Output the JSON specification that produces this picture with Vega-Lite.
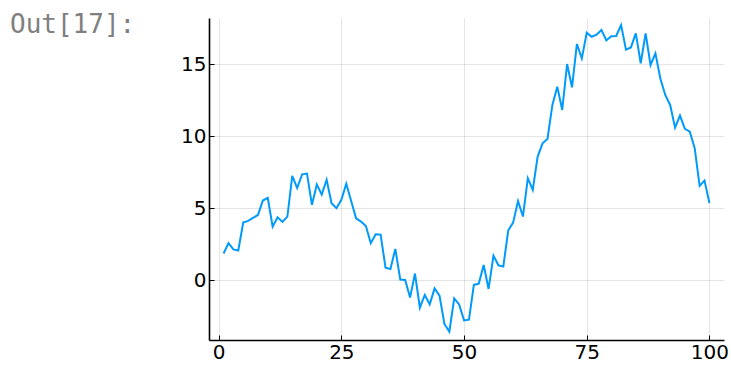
{
  "$schema": "https://vega.github.io/schema/vega-lite/v6.json",
  "width": 515,
  "height": 322,
  "autosize": {"type": "none"},
  "padding": {"left": 209, "top": 18, "right": 7, "bottom": 31},
  "background": "white",
  "title": {
    "text": "Out[17]:",
    "anchor": "start",
    "frame": "group",
    "font": "DejaVu Sans Mono",
    "fontSize": 26,
    "fontWeight": "normal",
    "color": "#7f7f7f",
    "baseline": "alphabetic",
    "offset": 0,
    "dx": -199,
    "dy": 41
  },
  "config": {
    "view": {"stroke": null},
    "axis": {
      "labelFont": "DejaVu Sans",
      "labelFontSize": 20,
      "labelColor": "black",
      "domainColor": "black",
      "domainWidth": 1.6,
      "tickColor": "black",
      "tickWidth": 1,
      "tickSize": -5,
      "gridColor": "black",
      "gridOpacity": 0.1,
      "gridWidth": 1,
      "title": null
    }
  },
  "data": {
    "values": [
      {"x": 1, "y": 1.86}, {"x": 2, "y": 2.58}, {"x": 3, "y": 2.14}, {"x": 4, "y": 2.07}, {"x": 5, "y": 4.0},
      {"x": 6, "y": 4.12}, {"x": 7, "y": 4.33}, {"x": 8, "y": 4.53}, {"x": 9, "y": 5.53}, {"x": 10, "y": 5.72},
      {"x": 11, "y": 3.72}, {"x": 12, "y": 4.37}, {"x": 13, "y": 4.05}, {"x": 14, "y": 4.42}, {"x": 15, "y": 7.25},
      {"x": 16, "y": 6.4}, {"x": 17, "y": 7.35}, {"x": 18, "y": 7.4}, {"x": 19, "y": 5.23}, {"x": 20, "y": 6.65},
      {"x": 21, "y": 5.94}, {"x": 22, "y": 6.97}, {"x": 23, "y": 5.35}, {"x": 24, "y": 5.0}, {"x": 25, "y": 5.58},
      {"x": 26, "y": 6.69}, {"x": 27, "y": 5.5}, {"x": 28, "y": 4.3}, {"x": 29, "y": 4.07}, {"x": 30, "y": 3.77},
      {"x": 31, "y": 2.57}, {"x": 32, "y": 3.19}, {"x": 33, "y": 3.17}, {"x": 34, "y": 0.88}, {"x": 35, "y": 0.79},
      {"x": 36, "y": 2.18}, {"x": 37, "y": 0.05}, {"x": 38, "y": 0.02}, {"x": 39, "y": -1.2}, {"x": 40, "y": 0.47},
      {"x": 41, "y": -1.9}, {"x": 42, "y": -1.02}, {"x": 43, "y": -1.67}, {"x": 44, "y": -0.56}, {"x": 45, "y": -1.06},
      {"x": 46, "y": -3.03}, {"x": 47, "y": -3.56}, {"x": 48, "y": -1.25}, {"x": 49, "y": -1.67}, {"x": 50, "y": -2.78},
      {"x": 51, "y": -2.73}, {"x": 52, "y": -0.32}, {"x": 53, "y": -0.23}, {"x": 54, "y": 1.06}, {"x": 55, "y": -0.6},
      {"x": 56, "y": 1.71}, {"x": 57, "y": 1.04}, {"x": 58, "y": 0.95}, {"x": 59, "y": 3.45}, {"x": 60, "y": 4.0},
      {"x": 61, "y": 5.5}, {"x": 62, "y": 4.42}, {"x": 63, "y": 7.08}, {"x": 64, "y": 6.27}, {"x": 65, "y": 8.58},
      {"x": 66, "y": 9.5}, {"x": 67, "y": 9.8}, {"x": 68, "y": 12.16}, {"x": 69, "y": 13.43}, {"x": 70, "y": 11.81},
      {"x": 71, "y": 15.0}, {"x": 72, "y": 13.38}, {"x": 73, "y": 16.39}, {"x": 74, "y": 15.39}, {"x": 75, "y": 17.17},
      {"x": 76, "y": 16.89}, {"x": 77, "y": 17.03}, {"x": 78, "y": 17.36}, {"x": 79, "y": 16.64}, {"x": 80, "y": 16.92},
      {"x": 81, "y": 16.94}, {"x": 82, "y": 17.7}, {"x": 83, "y": 16.0}, {"x": 84, "y": 16.15}, {"x": 85, "y": 17.12},
      {"x": 86, "y": 15.05}, {"x": 87, "y": 17.12}, {"x": 88, "y": 14.93}, {"x": 89, "y": 15.74}, {"x": 90, "y": 14.0},
      {"x": 91, "y": 12.85}, {"x": 92, "y": 12.16}, {"x": 93, "y": 10.59}, {"x": 94, "y": 11.42}, {"x": 95, "y": 10.5},
      {"x": 96, "y": 10.31}, {"x": 97, "y": 9.16}, {"x": 98, "y": 6.55}, {"x": 99, "y": 6.92}, {"x": 100, "y": 5.35}
    ]
  },
  "mark": {"type": "line", "color": "#009AFA", "strokeWidth": 2, "clip": true},
  "encoding": {
    "x": {
      "field": "x",
      "type": "quantitative",
      "scale": {"domain": [-1.97, 102.97], "nice": false, "zero": false},
      "axis": {"values": [0, 25, 50, 75, 100], "labelPadding": 7, "labelFlush": false}
    },
    "y": {
      "field": "y",
      "type": "quantitative",
      "scale": {"domain": [-4.14, 18.19], "nice": false, "zero": false},
      "axis": {"values": [0, 5, 10, 15], "labelPadding": 8}
    }
  }
}
